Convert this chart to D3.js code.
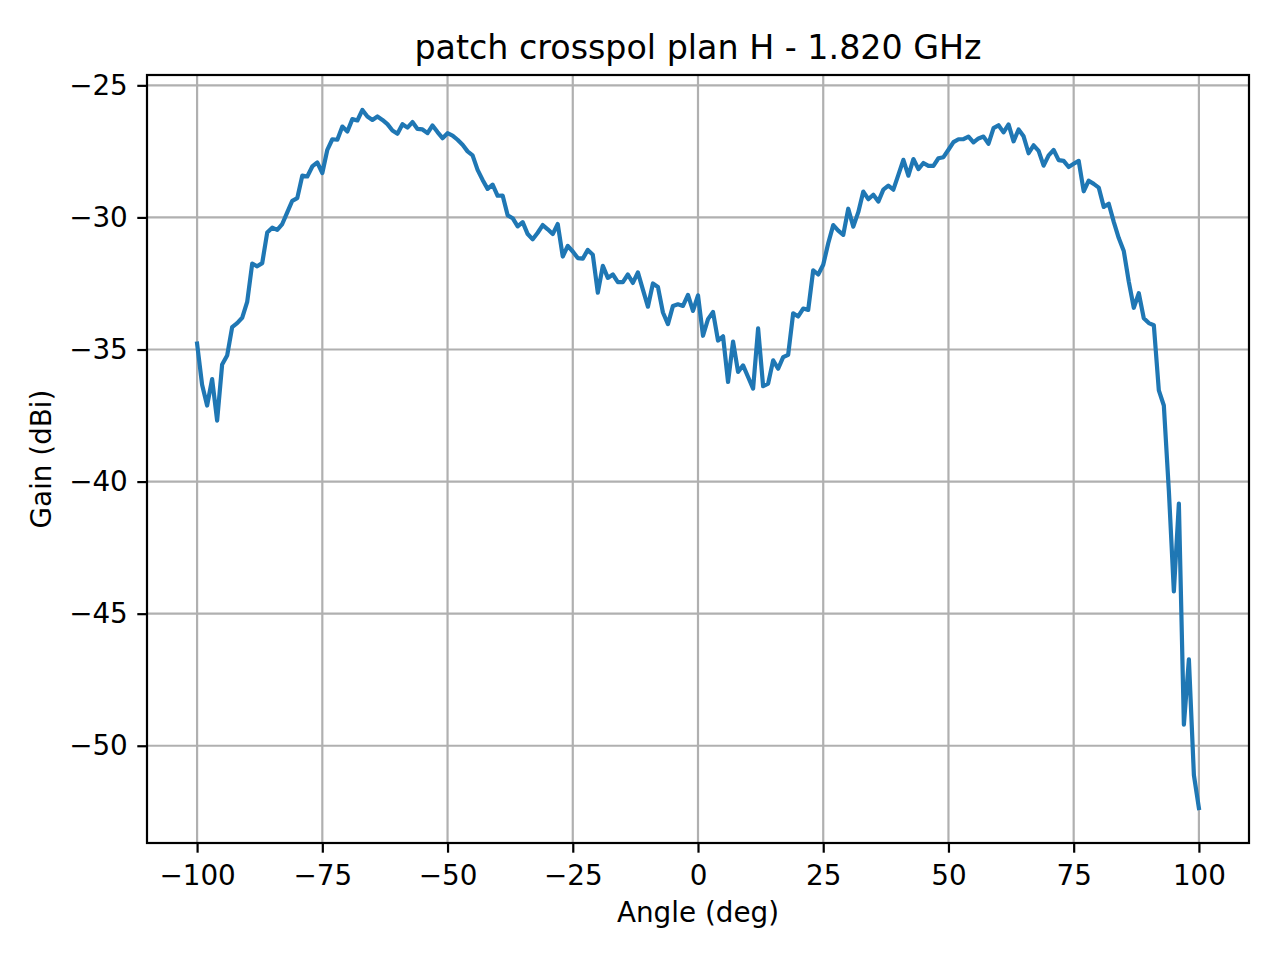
<!DOCTYPE html>
<html>
<head>
	<meta charset="utf-8">
	<script src="https://d3js.org/d3.v7.min.js"></script>
	<style type="text/css">
		body { margin: 0; background: #fff; }
		text { font-family: "DejaVu Sans", sans-serif; fill: #000; }
		.tick text { font-size: 27.8px; }
		.grid line { stroke: #b0b0b0; stroke-width: 2.2; }
	</style>
</head>
<body>
	<script type="text/javascript">
		// data : angle (deg) / gain (dBi)
		let angles = [
			-100, -99, -98, -97, -96, -95, -94, -93, -92, -91, -90, -89, -88, -87, -86, -85, -84, -83, -82, -81,
			-80, -79, -78, -77, -76, -75, -74, -73, -72, -71, -70, -69, -68, -67, -66, -65, -64, -63, -62, -61,
			-60, -59, -58, -57, -56, -55, -54, -53, -52, -51, -50, -49, -48, -47, -46, -45, -44, -43, -42, -41,
			-40, -39, -38, -37, -36, -35, -34, -33, -32, -31, -30, -29, -28, -27, -26, -25, -24, -23, -22, -21,
			-20, -19, -18, -17, -16, -15, -14, -13, -12, -11, -10, -9, -8, -7, -6, -5, -4, -3, -2, -1,
			0, 1, 2, 3, 4, 5, 6, 7, 8, 9, 10, 11, 12, 13, 14, 15, 16, 17, 18, 19,
			20, 21, 22, 23, 24, 25, 26, 27, 28, 29, 30, 31, 32, 33, 34, 35, 36, 37, 38, 39,
			40, 41, 42, 43, 44, 45, 46, 47, 48, 49, 50, 51, 52, 53, 54, 55, 56, 57, 58, 59,
			60, 61, 62, 63, 64, 65, 66, 67, 68, 69, 70, 71, 72, 73, 74, 75, 76, 77, 78, 79,
			80, 81, 82, 83, 84, 85, 86, 87, 88, 89, 90, 91, 92, 93, 94, 95, 96, 97, 98, 99,
			100
		];
		let gains = [
			-34.78, -36.33, -37.12, -36.12, -37.69, -35.57, -35.23, -34.15, -34.00, -33.80,
			-33.20, -31.75, -31.85, -31.73, -30.57, -30.39, -30.47, -30.25, -29.81, -29.37,
			-29.27, -28.42, -28.45, -28.07, -27.92, -28.32, -27.44, -27.04, -27.06, -26.56,
			-26.75, -26.28, -26.33, -25.93, -26.18, -26.31, -26.18, -26.31, -26.47, -26.71,
			-26.83, -26.47, -26.60, -26.39, -26.65, -26.67, -26.81, -26.52, -26.77, -27.00,
			-26.81, -26.90, -27.06, -27.25, -27.50, -27.65, -28.20, -28.58, -28.92, -28.76,
			-29.18, -29.17, -29.92, -30.03, -30.34, -30.18, -30.63, -30.83, -30.58, -30.29,
			-30.45, -30.63, -30.25, -31.48, -31.08, -31.29, -31.54, -31.56, -31.23, -31.41,
			-32.85, -31.83, -32.29, -32.16, -32.45, -32.45, -32.16, -32.48, -32.08, -32.73,
			-33.38, -32.50, -32.63, -33.60, -34.04, -33.35, -33.29, -33.35, -32.93, -33.54,
			-32.95, -34.48, -33.85, -33.58, -34.66, -34.50, -36.23, -34.70, -35.85, -35.60,
			-36.04, -36.48, -34.20, -36.39, -36.29, -35.41, -35.73, -35.29, -35.20, -33.63,
			-33.75, -33.45, -33.50, -32.00, -32.16, -31.79, -30.98, -30.29, -30.50, -30.66,
			-29.67, -30.35, -29.80, -29.02, -29.31, -29.14, -29.40, -28.95, -28.80, -28.95,
			-28.39, -27.82, -28.42, -27.79, -28.17, -27.94, -28.05, -28.05, -27.76, -27.72,
			-27.44, -27.15, -27.04, -27.04, -26.94, -27.16, -27.01, -26.94, -27.21, -26.62,
			-26.51, -26.78, -26.48, -27.12, -26.67, -26.93, -27.57, -27.27, -27.48, -28.04,
			-27.65, -27.45, -27.83, -27.86, -28.09, -27.97, -27.86, -29.01, -28.61, -28.73,
			-28.87, -29.60, -29.48, -30.17, -30.78, -31.27, -32.43, -33.42, -32.87, -33.82,
			-34.00, -34.08, -36.55, -37.12, -40.34, -44.16, -40.83, -49.20, -46.73, -51.11,
			-52.36
		];
		let xTicks = [-100, -75, -50, -25, 0, 25, 50, 75, 100],
			yTicks = [-50, -45, -40, -35, -30, -25],
			title = "patch crosspol plan H - 1.820 GHz",
			xLabel = "Angle (deg)",
			yLabel = "Gain (dBi)";
	</script>
	<script type="text/javascript">
		let w = 1280,
			h = 960,
			left = 147,
			right = 1249,
			top_ = 75,
			bottom = 843;

		let svg = d3.select("body")
			.append("svg")
			.attr("width", w)
			.attr("height", h);

		// matplotlib style 5% margins
		let xMin = d3.min(angles), xMax = d3.max(angles),
			yMin = d3.min(gains), yMax = d3.max(gains),
			xm = (xMax - xMin) * 0.05,
			ym = (yMax - yMin) * 0.05;

		let x = d3.scaleLinear()
			.domain([xMin - xm, xMax + xm])
			.range([left, right]);

		let y = d3.scaleLinear()
			.domain([yMin - ym, yMax + ym])
			.range([bottom, top_]);

		let fmt = d => (d < 0 ? "\u2212" + Math.abs(d) : "" + d);

		// grid
		svg.append("g").attr("class", "grid")
			.selectAll("line").data(xTicks).enter().append("line")
			.attr("x1", d => x(d)).attr("x2", d => x(d))
			.attr("y1", top_).attr("y2", bottom);

		svg.append("g").attr("class", "grid")
			.selectAll("line").data(yTicks).enter().append("line")
			.attr("x1", left).attr("x2", right)
			.attr("y1", d => y(d)).attr("y2", d => y(d));

		// curve
		let line = d3.line()
			.x((d, i) => x(angles[i]))
			.y(d => y(d));

		svg.append("path")
			.datum(gains)
			.attr("d", line)
			.attr("fill", "none")
			.attr("stroke", "#1f77b4")
			.attr("stroke-width", 4.2)
			.attr("stroke-linejoin", "round")
			.attr("stroke-linecap", "square");

		// axes
		let xAxis = d3.axisBottom(x).tickValues(xTicks).tickFormat(fmt)
			.tickSizeInner(9.7).tickSizeOuter(0).tickPadding(13);
		let yAxis = d3.axisLeft(y).tickValues(yTicks).tickFormat(fmt)
			.tickSizeInner(9.7).tickSizeOuter(0).tickPadding(9.5);

		let gx = svg.append("g")
			.attr("transform", "translate(0," + bottom + ")")
			.call(xAxis);
		let gy = svg.append("g")
			.attr("transform", "translate(" + left + ",0)")
			.call(yAxis);

		[gx, gy].forEach(g => {
			g.select(".domain").remove();
			g.selectAll(".tick line").attr("stroke", "#000").attr("stroke-width", 2.2);
			g.selectAll(".tick text").attr("fill", "#000").style("font-family", "'DejaVu Sans', sans-serif");
		});

		// frame
		svg.append("rect")
			.attr("x", left).attr("y", top_)
			.attr("width", right - left).attr("height", bottom - top_)
			.attr("fill", "none")
			.attr("stroke", "#000")
			.attr("stroke-width", 2.2);

		// texts
		svg.append("text")
			.text(title)
			.attr("x", (left + right) / 2)
			.attr("y", 58.5)
			.attr("text-anchor", "middle")
			.style("font-size", "33.3px");

		svg.append("text")
			.text(xLabel)
			.attr("x", (left + right) / 2)
			.attr("y", 922)
			.attr("text-anchor", "middle")
			.style("font-size", "27.8px");

		svg.append("text")
			.text(yLabel)
			.attr("transform", "translate(51," + (top_ + bottom) / 2 + ") rotate(-90)")
			.attr("text-anchor", "middle")
			.style("font-size", "27.8px");
	</script>
</body>
</html>
